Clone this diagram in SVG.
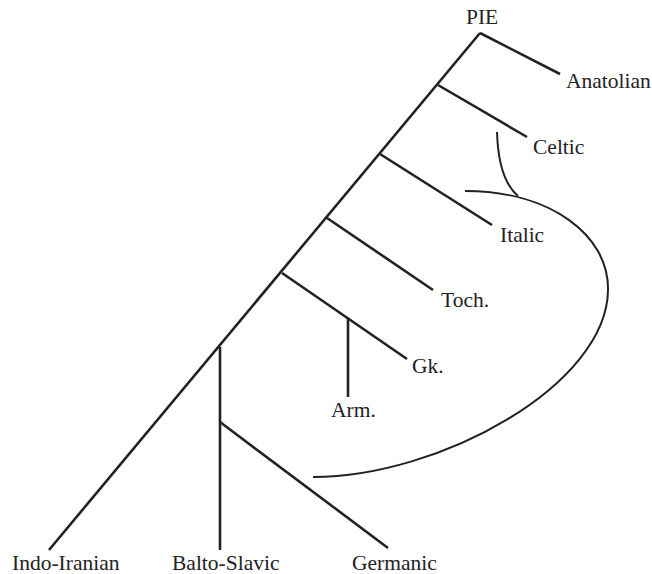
<svg xmlns="http://www.w3.org/2000/svg" width="652" height="574" viewBox="0 0 652 574">
<style>
.b{stroke:#222;stroke-width:2.6;fill:none;stroke-linecap:butt}
.c{stroke:#222;stroke-width:2;fill:none}
text{font-family:"Liberation Serif","Times New Roman",serif;font-size:21.5px;fill:#222}
</style>
<rect width="652" height="574" fill="#fff"/>
<g id="connectors">
<path class="b" d="M480,33 L49,550"/>
<path class="b" d="M480,33 L560,74"/>
<path class="b" d="M438,85 L527,137"/>
<path class="b" d="M380,154 L492,225"/>
<path class="b" d="M327,218 L433,290"/>
<path class="b" d="M282,273 L407,359"/>
<path class="b" d="M348,318 L348,397"/>
<path class="b" d="M220,347 L220,550"/>
<path class="b" d="M220,422 L388,548"/>
<path class="c" d="M465,191 C550,191 609,235 608,290 C607,385 440,477 313,477"/>
<path class="c" d="M497,132 C498,165 505,185 518,196"/>
</g>
<g id="PIE"><text x="466" y="24">PIE</text></g>
<g id="Anatolian"><text x="566" y="88">Anatolian</text></g>
<g id="Celtic"><text x="533" y="154">Celtic</text></g>
<g id="Italic"><text x="500" y="242">Italic</text></g>
<g id="Toch"><text x="441" y="307">Toch.</text></g>
<g id="Gk"><text x="412" y="373">Gk.</text></g>
<g id="Arm"><text x="331" y="417">Arm.</text></g>
<g id="IndoIranian"><text x="12" y="570">Indo-Iranian</text></g>
<g id="BaltoSlavic"><text x="172" y="570">Balto-Slavic</text></g>
<g id="Germanic"><text x="352" y="570">Germanic</text></g>
</svg>
